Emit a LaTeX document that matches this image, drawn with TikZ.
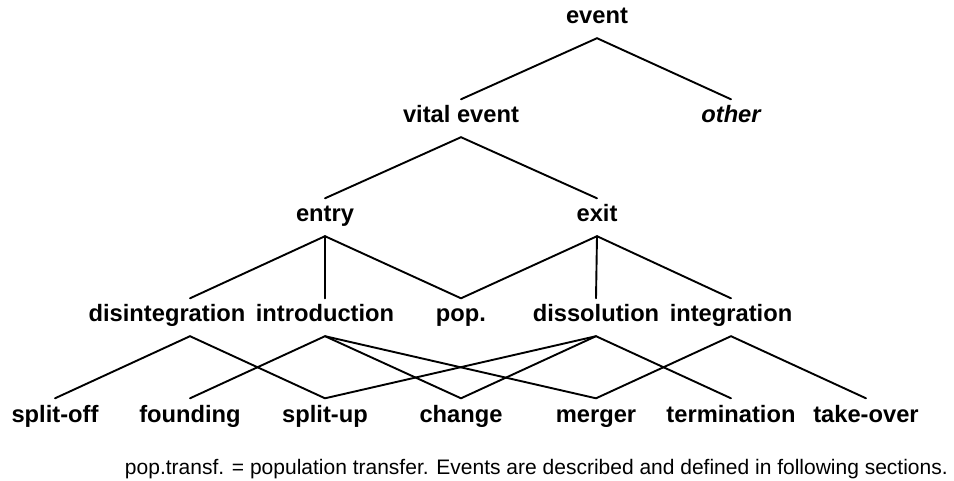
\documentclass[tikz,border=0pt]{standalone}
\usepackage{fontspec}
\setmainfont{Liberation Sans}
\newcommand{\labfont}{\fontsize{23.7bp}{28bp}\selectfont\bfseries}
\begin{document}
\begin{tikzpicture}[x=1bp,y=-1bp,
  lab/.style={font=\labfont, anchor=base, text height=21.5bp, text depth=12bp, inner ysep=2bp, inner xsep=0pt},
  edge/.style={line width=1.9bp, line cap=round}]
\useasboundingbox (0,0) rectangle (954,481);
% level 0 and 1
\node[lab] (ev) at (597,24) {event};
\node[lab] (vit) at (461,123) {vital event};
\node[lab, font=\labfont\itshape] (oth) at (731,123) {other};
% level 2
\node[lab] (ent) at (325,222) {entry};
\node[lab] (exi) at (597,222) {exit};
% level 3
\node[lab] (dis) at (167,322) {disintegration};
\node[lab] (int) at (325,322) {introduction};
\node[lab] (pop) at (461,322) {pop.};
\node[lab] (dso) at (596,322) {dissolution};
\node[lab] (itg) at (731,322) {integration};
% level 4
\node[lab] (spo) at (55,422) {split-off};
\node[lab] (fnd) at (190,422) {founding};
\node[lab] (spu) at (325,422) {split-up};
\node[lab] (chg) at (461,422) {change};
\node[lab] (mrg) at (596,422) {merger};
\node[lab] (trm) at (731,422) {termination};
\node[lab] (tko) at (866,422) {take-over};
% caption
\node[anchor=base east, inner sep=0pt, font=\fontsize{21bp}{25bp}\selectfont] (cap) at (948,474)
  {pop.transf. = population transfer. Events are described and defined in following sections.};
% connectors
\draw[edge] (vit.north) -- (ev.south) -- (oth.north);
\draw[edge] (ent.north) -- (vit.south) -- (exi.north);
\draw[edge] ([xshift=23bp]dis.north) -- (ent.south) -- (pop.north);
\draw[edge] (ent.south) -- (int.north);
\draw[edge] (pop.north) -- (exi.south) -- (itg.north);
\draw[edge] (exi.south) -- (dso.north);
\draw[edge] (spo.north) -- ([xshift=23bp]dis.south) -- (spu.north);
\draw[edge] (fnd.north) -- (int.south) -- (chg.north);
\draw[edge] (int.south) -- (mrg.north);
\draw[edge] (spu.north) -- (dso.south) -- (trm.north);
\draw[edge] (dso.south) -- (chg.north);
\draw[edge] (mrg.north) -- (itg.south) -- (tko.north);
\end{tikzpicture}
\end{document}
